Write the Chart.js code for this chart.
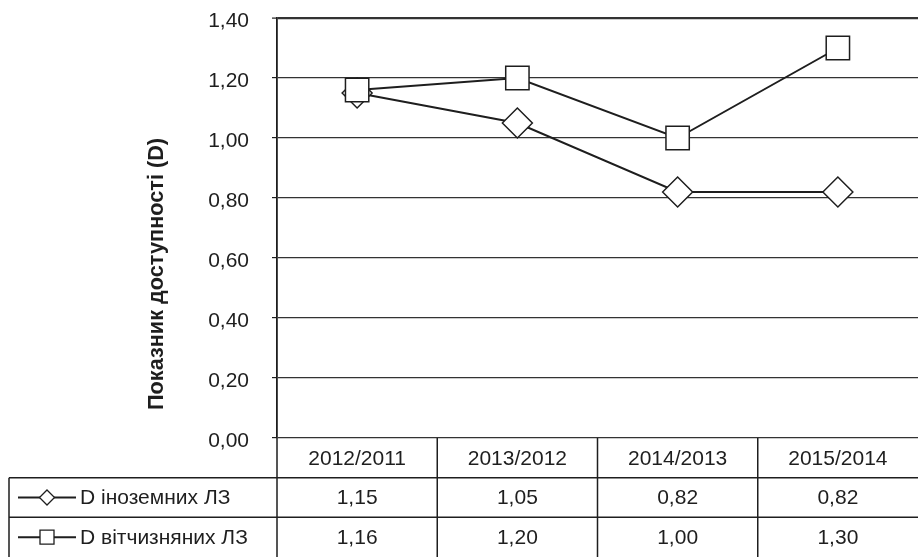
<!DOCTYPE html>
<html>
<head>
<meta charset="utf-8">
<script src="https://cdn.jsdelivr.net/npm/chart.js@4.4.0/dist/chart.umd.min.js"></script>
<style>
  html, body { margin: 0; padding: 0; background: #ffffff; }
  canvas { display: block; }
</style>
</head>
<body>
<canvas id="chart" width="918" height="557"></canvas>
<script>
// Availability index (D) by period
const categories = ['2012/2011', '2013/2012', '2014/2013', '2015/2014'];
const foreignD = [1.15, 1.05, 0.82, 0.82];
const domesticD = [1.16, 1.20, 1.00, 1.30];
const seriesNames = ['D іноземних ЛЗ', 'D вітчизняних ЛЗ'];
const yAxisTitle = 'Показник доступності (D)';
const yMin = 0, yMax = 1.4, yStep = 0.2;

const FONT = "'Liberation Sans', Arial, sans-serif";
const INK = '#1e1e1e';

const fmt = v => v.toFixed(2).replace('.', ',');

function diamond(ctx, x, y, r) {
  ctx.beginPath();
  ctx.moveTo(x, y - r); ctx.lineTo(x + r, y); ctx.lineTo(x, y + r); ctx.lineTo(x - r, y);
  ctx.closePath();
  ctx.fillStyle = '#fff'; ctx.fill(); ctx.stroke();
}
function square(ctx, x, y, h) {
  ctx.beginPath();
  ctx.rect(x - h, y - h, 2 * h, 2 * h);
  ctx.fillStyle = '#fff'; ctx.fill(); ctx.stroke();
}

// Rotated y-axis title and the data table under the plot
const tablePlugin = {
  id: 'dataTable',
  afterDraw(chart) {
    const { ctx, chartArea, scales } = chart;
    const xs = scales.x;
    const H = chart.height;
    const top = chartArea.bottom;
    const rowH = (H - top) / 3;
    const rows = [top, top + rowH, top + 2 * rowH, H];
    const legendLeft = 9;
    const colW = chartArea.width / categories.length;

    ctx.save();
    // y-axis title
    ctx.translate(157, 274);
    ctx.rotate(-Math.PI / 2);
    ctx.font = `bold 21.7px ${FONT}`;
    ctx.fillStyle = INK;
    ctx.textAlign = 'center';
    ctx.textBaseline = 'middle';
    ctx.fillText(yAxisTitle, 0, 0);
    ctx.restore();

    ctx.save();
    ctx.strokeStyle = INK;
    ctx.lineWidth = 1.5;
    ctx.beginPath();
    // horizontal rules
    ctx.moveTo(legendLeft, rows[1]); ctx.lineTo(chartArea.right, rows[1]);
    ctx.moveTo(legendLeft, rows[2]); ctx.lineTo(chartArea.right, rows[2]);
    // vertical rules
    ctx.moveTo(legendLeft, rows[1]); ctx.lineTo(legendLeft, rows[3]);
    for (let i = 0; i < categories.length; i++) {
      const x = chartArea.left + i * colW;
      ctx.moveTo(x, top); ctx.lineTo(x, rows[3]);
    }
    ctx.stroke();

    ctx.font = `21px ${FONT}`;
    ctx.fillStyle = INK;
    ctx.textAlign = 'center';
    ctx.textBaseline = 'middle';
    const series = [foreignD, domesticD];
    categories.forEach((c, i) => {
      const cx = xs.getPixelForValue(i);
      ctx.fillText(c, cx, (rows[0] + rows[1]) / 2 + 1);
      series.forEach((s, k) => {
        ctx.fillText(fmt(s[i]), cx, (rows[k + 1] + rows[k + 2]) / 2 + 1);
      });
    });

    // legend keys
    ctx.textAlign = 'left';
    series.forEach((s, k) => {
      const cy = (rows[k + 1] + rows[k + 2]) / 2;
      ctx.beginPath();
      ctx.moveTo(18, cy); ctx.lineTo(76, cy);
      ctx.lineWidth = 2; ctx.stroke();
      ctx.lineWidth = 1.3;
      if (k === 0) diamond(ctx, 47, cy, 7.5); else square(ctx, 47, cy, 7);
      ctx.fillStyle = INK;
      ctx.fillText(seriesNames[k], 80, cy + 1);
    });
    ctx.restore();
  }
};

new Chart(document.getElementById('chart'), {
  type: 'line',
  data: {
    labels: categories,
    datasets: [
      {
        label: seriesNames[0],
        data: foreignD,
        order: 1,
        borderColor: INK,
        borderWidth: 2,
        pointStyle: 'rectRot',
        pointRadius: 15,
        pointBorderWidth: 1.5,
        pointBackgroundColor: '#ffffff',
        pointBorderColor: INK,
        tension: 0
      },
      {
        label: seriesNames[1],
        data: domesticD,
        order: 0,
        borderColor: INK,
        borderWidth: 2,
        pointStyle: 'rect',
        pointRadius: 16.5,
        pointBorderWidth: 1.5,
        pointBackgroundColor: '#ffffff',
        pointBorderColor: INK,
        tension: 0
      }
    ]
  },
  options: {
    responsive: false,
    animation: false,
    devicePixelRatio: 1,
    layout: { autoPadding: false, padding: { top: 18, bottom: 119, left: 0, right: 0 } },
    plugins: { legend: { display: false }, tooltip: { enabled: false } },
    scales: {
      x: {
        type: 'category',
        offset: true,
        display: false
      },
      y: {
        min: yMin,
        max: yMax,
        afterFit(scale) {
          scale.width = 277;
          scale.paddingTop = 0;
          scale.paddingBottom = 0;
        },
        ticks: {
          stepSize: yStep,
          padding: 23,
          labelOffset: 3,
          color: INK,
          font: { family: FONT, size: 21 },
          callback: v => fmt(v)
        },
        grid: {
          color: '#333333',
          lineWidth: ctx => (ctx.tick && ctx.tick.value === yMax ? 2.2 : 1.2),
          tickLength: 5,
          tickColor: INK,
          tickWidth: 1.2
        },
        border: { display: true, color: INK, width: 1.8 }
      }
    }
  },
  plugins: [tablePlugin]
});
</script>
</body>
</html>
